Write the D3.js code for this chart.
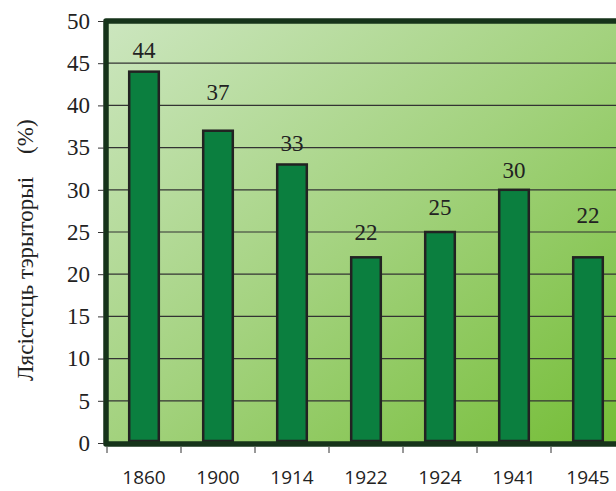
<!DOCTYPE html>
<html><head><meta charset="utf-8">
<script src="https://cdn.jsdelivr.net/npm/d3@7"></script>
<style>
body{margin:0;background:#fff;}svg{display:block;}
</style>
</head><body><div id="chart"></div>
<script>
const categories = ["1860","1900","1914","1922","1924","1941","1945"];
const values = [44,37,33,22,25,30,22];
const yTicks = [0,5,10,15,20,25,30,35,40,45,50];
const yTitle = "Лясістсць тэрыторыі    (%)";
// label vertical lift above bar top (px), layout only
const labelLift = [14, 31, 13, 17, 17, 12, 34];

const SERIF = "'Liberation Serif', 'Times New Roman', Times, serif";
const SANS = "'Open Sans', 'Liberation Sans', sans-serif";

const W = 616, H = 491;
const svg = d3.select("#chart").append("svg").attr("width", W).attr("height", H);
const pL = 106, pR = 625, pT = 21, pB = 443;

const x = d3.scaleBand().domain(categories).range([pL+1, pR]).paddingInner(0.6).paddingOuter(0.3);
const xb = d3.scaleBand().domain(categories).range([pL+1, pR]);
const y = d3.scaleLinear().domain([0,50]).range([pB, pT]);

const defs = svg.append("defs");
const g = defs.append("linearGradient").attr("id","bg").attr("x1","0").attr("y1","0").attr("x2","1").attr("y2","1");
g.append("stop").attr("offset","0").attr("stop-color","#cce6bf");
g.append("stop").attr("offset","0.5").attr("stop-color","#a3d27e");
g.append("stop").attr("offset","1").attr("stop-color","#74bd36");

svg.append("rect").attr("x", pL).attr("y", pT).attr("width", pR-pL).attr("height", pB-pT).attr("fill","url(#bg)");

// gridlines
svg.append("g").selectAll("line").data(yTicks.filter(d=>d>0 && d<50)).join("line")
  .attr("x1", pL).attr("x2", pR).attr("y1", d=>y(d)).attr("y2", d=>y(d))
  .attr("stroke","#333").attr("stroke-width",1.2);

// bars
svg.append("g").selectAll("rect").data(values).join("rect")
  .attr("x", (d,i)=>x(categories[i]))
  .attr("width", x.bandwidth())
  .attr("y", d=>y(d))
  .attr("height", d=>y(0)-y(d)-2)
  .attr("fill","#0b7f3f").attr("stroke","#222").attr("stroke-width",2.5);

// border (left, top, bottom)
svg.append("path")
  .attr("d", `M${pR+10},${pT} L${pL},${pT} L${pL},${pB+1} L${pR+10},${pB+1}`)
  .attr("fill","none").attr("stroke","#16331a").attr("stroke-width",5.5).attr("stroke-linejoin","round");

// value labels
svg.append("g").selectAll("text").data(values).join("text")
  .attr("x", (d,i)=>x(categories[i]) + x.bandwidth()/2)
  .attr("y", (d,i)=>y(d) - labelLift[i])
  .attr("text-anchor","middle")
  .style("font-family", SERIF)
  .style("font-size","23px").attr("fill","#222")
  .text(d=>d);

// y axis
const ya = svg.append("g").attr("transform",`translate(${pL-2},0)`)
  .call(d3.axisLeft(y).tickValues(yTicks).tickSize(6).tickPadding(8));
ya.attr("font-family", null).attr("font-size", null);
ya.select(".domain").remove();
ya.selectAll("line").attr("stroke","#333");
ya.selectAll("text").style("font-family", SERIF).style("font-size","23px").attr("fill","#222");

// x axis ticks
svg.append("g").selectAll("line").data(categories).join("line")
  .attr("x1", d=>xb(d)).attr("x2", d=>xb(d)).attr("y1", pB+4).attr("y2", pB+10)
  .attr("stroke","#333");
svg.append("g").selectAll("text").data(categories).join("text")
  .attr("x", d=>xb(d)+xb.bandwidth()/2).attr("y", 484)
  .attr("text-anchor","middle")
  .style("font-family", SANS)
  .style("font-size","19px").attr("fill","#222")
  .text(d=>d);

// y title
svg.append("text").attr("transform","translate(33,381) rotate(-90)")
  .attr("text-anchor","start")
  .style("font-family", SERIF)
  .style("font-size","23px").attr("fill","#222")
  .style("white-space","pre")
  .text(yTitle);
</script></body></html>
